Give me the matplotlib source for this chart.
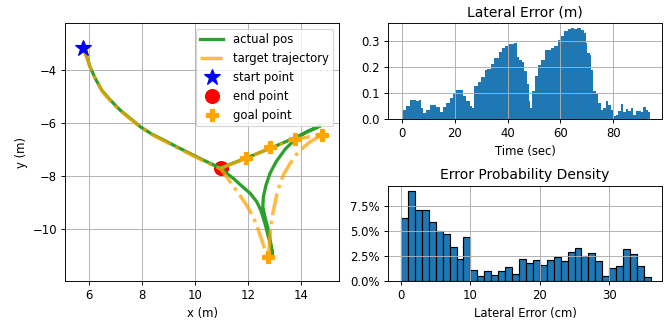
import numpy as np
import matplotlib
matplotlib.use("Agg")
import matplotlib.pyplot as plt
from matplotlib.ticker import PercentFormatter, MultipleLocator

# trajectory (m)
actual_x = [5.80, 5.93, 6.05, 6.25, 6.49, 6.81, 7.18, 7.56, 7.94, 8.38, 8.82, 9.32, 9.82,
            10.32, 10.98, 11.20, 11.45, 11.77, 12.08, 12.33, 12.48, 12.64, 12.77, 12.90,
            12.93, 12.86, 12.77, 12.64, 12.56, 12.58, 12.68, 12.83, 13.06, 13.40, 13.77,
            14.21, 14.72, 13.80, 12.88, 11.96, 11.04]
actual_y = [-3.19, -3.51, -3.89, -4.33, -4.77, -5.14, -5.52, -5.83, -6.15, -6.43, -6.65,
            -6.91, -7.16, -7.41, -7.72, -7.91, -8.10, -8.39, -8.66, -8.98, -9.29, -9.80,
            -10.30, -10.80, -11.06, -10.55, -10.05, -9.55, -9.17, -8.79, -8.35, -7.91,
            -7.47, -7.00, -6.63, -6.34, -6.12, -6.55, -6.95, -7.32, -7.68]
target_x = [5.82, 5.95, 6.08, 6.28, 6.52, 6.84, 7.20, 7.58, 7.96, 8.40, 8.84, 9.34, 9.84,
            10.34, 10.98, 11.33, 11.64, 11.95, 12.20, 12.39, 12.56, 12.68, 12.77, 12.81,
            12.86, 12.96, 13.11, 13.33, 13.59, 13.90, 14.34, 14.78, 13.78, 12.84, 11.92, 10.98]
target_y = [-3.25, -3.60, -3.97, -4.40, -4.83, -5.20, -5.56, -5.87, -6.18, -6.46, -6.69,
            -6.95, -7.20, -7.45, -7.75, -8.23, -8.66, -9.11, -9.55, -10.05, -10.55, -10.93,
            -11.06, -10.55, -9.92, -9.29, -8.60, -7.97, -7.53, -7.09, -6.72, -6.46, -6.62,
            -6.95, -7.35, -7.72]
start_pt = (5.80, -3.2)
end_pt = (10.98, -7.72)
goal_x = [11.92, 12.84, 13.78, 14.78, 12.77]
goal_y = [-7.34, -6.92, -6.60, -6.46, -11.06]

# lateral error over time
err_t = [0, 0.5, 1.7, 3.0, 4.3, 5.5, 6.4, 7.2, 8.0, 9.3, 10.6, 11.8, 13.1, 14.4, 15.6,
         16.9, 18.1, 19.4, 20.6, 21.9, 23.2, 24.4, 25.7, 26.6, 27.3, 28.8, 30.1, 31.4,
         32.4, 33.7, 35.0, 36.6, 37.9, 39.2, 40.4, 41.7, 42.6, 43.5, 44.5, 45.5, 46.4,
         47.3, 48.0, 48.6, 49.3, 50.2, 51.5, 52.7, 54.0, 55.2, 56.5, 57.7, 59.0, 60.3,
         61.5, 62.8, 64.0, 65.3, 66.4, 67.6, 68.9, 69.5, 70.2, 71.2, 71.7, 72.3, 73.4,
         74.2, 75.2, 76.2, 77.1, 77.8, 79.0, 80.0, 80.9, 81.8, 82.8, 83.8, 84.7, 85.6,
         86.6, 87.6, 88.5, 89.4, 90.4, 91.3, 92.3, 93.2]
err_m = [0.027, 0.036, 0.049, 0.075, 0.075, 0.069, 0.072, 0.043, 0.024, 0.036, 0.056,
         0.056, 0.045, 0.029, 0.045, 0.063, 0.080, 0.099, 0.111, 0.111, 0.088, 0.069,
         0.049, 0.043, 0.128, 0.141, 0.161, 0.188, 0.194, 0.214, 0.234, 0.260, 0.273,
         0.280, 0.290, 0.290, 0.295, 0.240, 0.227, 0.221, 0.187, 0.135, 0.069, 0.042,
         0.108, 0.168, 0.207, 0.227, 0.267, 0.267, 0.273, 0.280, 0.306, 0.320, 0.340,
         0.346, 0.353, 0.349, 0.350, 0.344, 0.333, 0.293, 0.254, 0.247, 0.188, 0.108,
         0.095, 0.062, 0.036, 0.043, 0.069, 0.056, 0.036, 0.013, 0.016, 0.032, 0.058,
         0.029, 0.040, 0.032, 0.043, 0.016, 0.032, 0.032, 0.027, 0.045, 0.036, 0.029]

# error histogram, 1 cm bins (percent)
hist_pct = [6.35, 9.07, 7.14, 7.14, 5.9, 5.05, 4.7, 3.45, 2.16, 4.4, 1.13, 0.53, 1.03, 0.6,
            1.03, 1.4, 0.7, 2.16, 1.8, 2.06, 1.63, 2.06, 2.36, 1.96, 2.9, 3.3, 2.46, 2.8,
            1.96, 0.53, 1.3, 1.5, 3.22, 2.72, 1.46, 0.4]

DPI = 83.375
fig = plt.figure(figsize=(667 / DPI, 322 / DPI), dpi=DPI)
ax1 = fig.add_axes([0.0975, 0.1273, 0.4108, 0.8012])
ax2 = fig.add_axes([0.5817, 0.6304, 0.4108, 0.2981])
ax3 = fig.add_axes([0.5817, 0.1273, 0.4108, 0.295])

ax1.plot(actual_x, actual_y, color='tab:green', lw=2.8, label='actual pos')
ax1.plot(target_x, target_y, color='orange', ls='-.', lw=3, alpha=0.75, label='target trajectory')
ax1.plot(*start_pt, '*', color='blue', ms=14, ls='none', label='start point')
# end point sits under the lines
ax1.plot(*end_pt, 'o', color='red', ms=12, ls='none', zorder=1.9, label='end point')
ax1.plot(goal_x, goal_y, 'P', color='orange', ms=11, ls='none', label='goal point')
ax1.set_xlim(5.11, 15.43)
ax1.set_ylim(-11.97, -2.24)
ax1.set_xlabel('x (m)')
ax1.set_ylabel('y (m)')
ax1.grid(True)
ax1.legend(loc='upper right')

t = np.array(err_t)
widths = np.diff(t, append=t[-1] + 0.5)
ax2.bar(t, err_m, width=widths, align='edge', color='tab:blue')
ax2.set_title('Lateral Error (m)')
ax2.set_xlabel('Time (sec)')
ax2.set_xlim(-5.2, 98.4)
ax2.grid(True)

bins = np.arange(len(hist_pct))
ax3.bar(bins, hist_pct, width=1, align='edge', color='tab:blue', edgecolor='black')
ax3.yaxis.set_major_locator(MultipleLocator(2.5))
ax3.yaxis.set_major_formatter(PercentFormatter(100, decimals=1))
ax3.set_title('Error Probability Density')
ax3.set_xlabel('Lateral Error (cm)')
ax3.set_xlim(-1.87, 37.6)
ax3.grid(True)

fig.savefig('out.png', dpi=DPI)
